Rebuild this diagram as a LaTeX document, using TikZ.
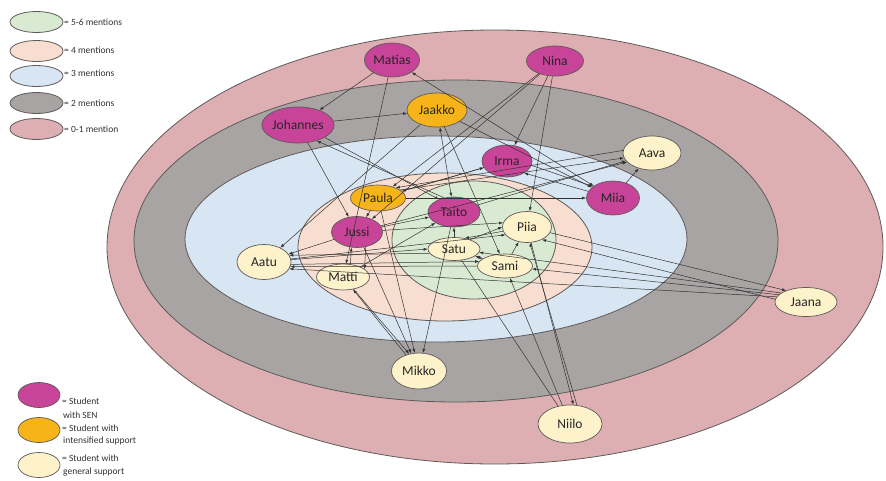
\documentclass[tikz,border=0pt]{standalone}
\usepackage{fontspec}
\setmainfont{Carlito}
\usetikzlibrary{shapes.geometric,arrows.meta}
\definecolor{senC}{RGB}{200,68,152}
\definecolor{intC}{RGB}{246,180,24}
\definecolor{genC}{RGB}{253,242,202}
\definecolor{ringA}{RGB}{221,175,178}
\definecolor{ringB}{RGB}{168,164,164}
\definecolor{ringC}{RGB}{216,229,242}
\definecolor{ringD}{RGB}{248,222,208}
\definecolor{ringE}{RGB}{217,234,211}
\definecolor{lineC}{RGB}{50,50,50}
\definecolor{edgeC}{RGB}{95,90,90}
\begin{document}
\begin{tikzpicture}[x=1pt,y=-1pt,
  ring/.style={draw=edgeC,line width=0.8pt},
  stud/.style={ellipse,draw=edgeC,line width=0.7pt,inner sep=0pt,text=black!85,font=\fontsize{13.5}{13.5}\selectfont},
  sen/.style={stud,fill=senC},
  intsup/.style={stud,fill=intC},
  gensup/.style={stud,fill=genC},
  lg/.style={anchor=west,inner sep=0pt,font=\fontsize{9.5}{11}\selectfont,text=black!80},
  a/.style={draw=lineC,line width=0.5pt,-{Latex[length=4pt,width=3pt]}},
  ab/.style={draw=lineC,line width=0.5pt,{Latex[length=4pt,width=3pt]}-{Latex[length=4pt,width=3pt]}},
  pl/.style={draw=lineC,line width=0.5pt}]
\useasboundingbox (0,0) rectangle (886,480);
\fill[white] (0,0) rectangle (886,480);
% rings
\draw[ring,fill=ringA] (495,247) ellipse [x radius=388, y radius=217];
\draw[ring,fill=ringB] (456,241) ellipse [x radius=322, y radius=161];
\draw[ring,fill=ringC] (436,239) ellipse [x radius=251, y radius=103];
\draw[ring,fill=ringD] (445,247) ellipse [x radius=147, y radius=74];
\draw[ring,fill=ringE] (474,240) ellipse [x radius=82, y radius=59];
% legend rings
\draw[ring,fill=ringE] (36.5,22) ellipse [x radius=26.5, y radius=10.5];
\draw[ring,fill=ringD] (36.5,51) ellipse [x radius=26.5, y radius=10.5];
\draw[ring,fill=ringC] (36.5,76) ellipse [x radius=26.5, y radius=10.5];
\draw[ring,fill=ringB] (36.5,103) ellipse [x radius=26.5, y radius=10.5];
\draw[ring,fill=ringA] (36.5,129) ellipse [x radius=26.5, y radius=10.5];
\node[lg] (l1) at (64,22) {= 5-6 mentions};
\node[lg] (l2) at (64,50) {= 4 mentions};
\node[lg] (l3) at (64,73) {= 3 mentions};
\node[lg] (l4) at (64,103) {= 2 mentions};
\node[lg] (l5) at (64,129) {= 0-1 mention};
% legend student types
\node[sen,minimum width=42pt,minimum height=25pt] (k1) at (39,395) {};
\node[intsup,minimum width=42pt,minimum height=25pt] (k2) at (39,430) {};
\node[gensup,minimum width=42pt,minimum height=25pt] (k3) at (39,465) {};
\node[lg] (t1) at (62,401) {= Student};
\node[lg] (t2) at (63,415) {with SEN};
\node[lg] (t3) at (62,428) {= Student with};
\node[lg] (t4) at (63,441) {intensified support};
\node[lg] (t5) at (62,458) {= Student with};
\node[lg] (t6) at (63,472) {general support};
% students
\node[sen,minimum width=55pt,minimum height=34pt] (Matias) at (392,60) {Matias};
\node[sen,minimum width=57pt,minimum height=30pt] (Nina) at (555,61) {Nina};
\node[sen,minimum width=56pt,minimum height=36pt] (Johannes) at (298,125) {Johannes};
\node[intsup,minimum width=60pt,minimum height=34pt] (Jaakko) at (437,110) {Jaakko};
\node[sen,minimum width=50pt,minimum height=32pt] (Irma) at (507,161) {Irma};
\node[gensup,minimum width=58pt,minimum height=34pt] (Aava) at (652,153) {Aava};
\node[sen,minimum width=53pt,minimum height=34pt] (Miia) at (613,198) {Miia};
\node[intsup,minimum width=55pt,minimum height=26pt] (Paula) at (378,198) {Paula};
\node[sen,minimum width=52pt,minimum height=30pt] (Taito) at (454,212) {Taito};
\node[sen,minimum width=51pt,minimum height=31pt] (Jussi) at (357,232) {Jussi};
\node[gensup,minimum width=49pt,minimum height=31pt] (Piia) at (527,227) {Piia};
\node[gensup,minimum width=52pt,minimum height=23pt] (Satu) at (454,249) {Satu};
\node[gensup,minimum width=55pt,minimum height=24pt] (Sami) at (505,266) {Sami};
\node[gensup,minimum width=54pt,minimum height=35pt] (Aatu) at (264,262) {Aatu};
\node[gensup,minimum width=53pt,minimum height=26pt] (Matti) at (343,277) {Matti};
\node[gensup,minimum width=62pt,minimum height=29pt] (Jaana) at (806,302) {Jaana};
\node[gensup,minimum width=55pt,minimum height=36pt] (Mikko) at (419,371) {Mikko};
\node[gensup,minimum width=64pt,minimum height=38pt] (Niilo) at (570,424) {Niilo};
% connections
\draw[a] (Matias) -- (Johannes);
\draw[a] (Matias) -- (Matti);
\draw[ab] (Matias) -- (Miia);
\draw[a] (Jaakko) -- (Miia);
\draw[a] (Nina) -- (Irma);
\draw[a] (Nina) -- (Piia);
\draw[a] (Nina) -- (Paula);
\draw[a] (Nina) -- (Jussi);
\draw[a] (Johannes) -- (Jaakko);
\draw[a] (Johannes.-25) -- (Taito.140);
\draw[a] (Taito.125) -- (Johannes.-40);
\draw[a] (Johannes) -- (Jussi);
\draw[a] (Jaakko) -- (Aatu);
\draw[ab] (Jaakko) -- (Taito);
\draw[a] (Jaakko) -- (Sami);
\draw[a] (Irma.-10) -- (Miia.150);
\draw[a] (Miia.165) -- (Irma.-35);
\draw[a] (Paula) -- (Irma);
\draw[a] (Paula.20) -- (Aava.190);
\draw[a] (Taito) -- (Aava);
\draw[a] (Miia) -- (Aava);
\draw[a] (Jussi) -- (Aava.200);
\draw[a] (Paula) -- (Miia);
\draw[a] (Irma) -- (Paula);
\draw[a] (Aava.175) -- (Paula.30);
\draw[a] (Paula) -- (Jussi);
\draw[a] (Paula) -- (Mikko);
\draw[a] (Jussi) -- (Taito);
\draw[a] (Satu) -- (Taito);
\draw[a] (Matti) -- (Taito);
\draw[a] (Jussi) -- (Aatu);
\draw[a] (Jussi) -- (Mikko);
\draw[a] (Matti.60) -- (Jussi.-110);
\draw[a] (Jussi.-60) -- (Matti.20);
\draw[a] (Aatu.5) -- (Satu.180);
\draw[a] (Satu.190) -- (Aatu.15);
\draw[a] (Sami.180) -- (Aatu.-10);
\draw[a] (Aatu.-5) -- (Sami.170);
\draw[a] (Jaana.170) -- (Aatu.-15);
\draw[a] (Piia) -- (Jaana.150);
\draw[a] (Jaana.165) -- (Sami);
\draw[a] (Jaana.160) -- (Satu);
\draw[a] (Jaana.175) -- (Piia.-40);
\draw[a] (Mikko) -- (Matti);
\draw[a] (Matti) -- (Mikko.120);
\draw[a] (Taito) -- (Mikko);
\draw[a] (Niilo) -- (Sami);
\draw[a] (Piia) -- (Niilo.80);
\draw[a] (Niilo.70) -- (Piia.-80);
\draw[pl] (Satu) -- (Niilo);
\draw[ab] (Satu) -- (Sami);
\draw[a] (Satu.30) -- (Piia.180);
\draw[a] (Piia.190) -- (Satu.45);
\draw[a] (Sami) -- (Piia);
\draw[a] (Jussi) -- (Piia.170);
\draw[a] (Aatu) -- (Piia.200);
\end{tikzpicture}
\end{document}
